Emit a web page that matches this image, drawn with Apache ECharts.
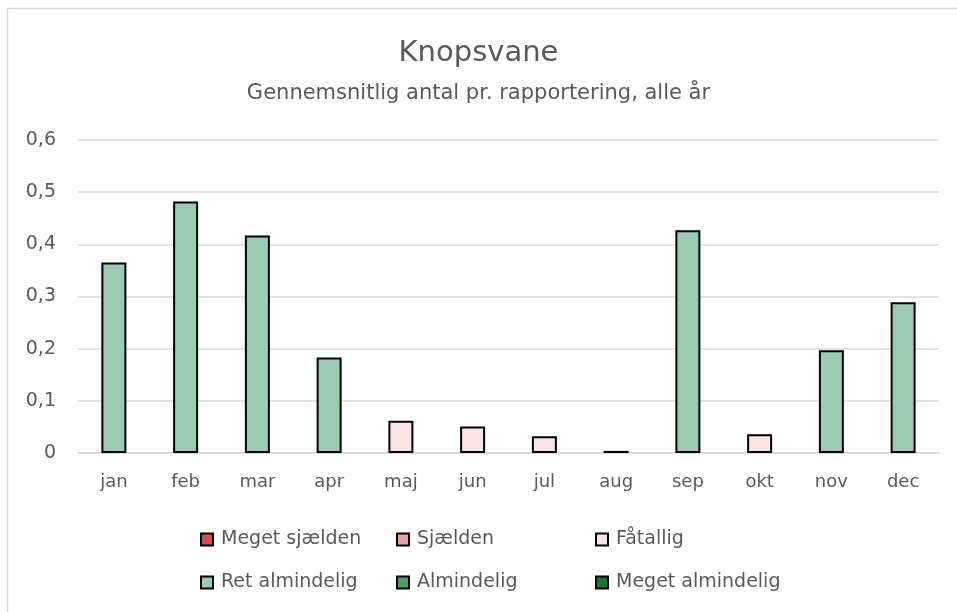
<!DOCTYPE html>
<html>
<head>
<meta charset="utf-8">
<script src="https://cdn.jsdelivr.net/npm/echarts@6/dist/echarts.min.js"></script>
<style>html,body{margin:0;padding:0;background:#fff}#c{width:957px;height:612px}</style>
</head>
<body>
<div id="c"></div>
<script>
const categories = ['jan','feb','mar','apr','maj','jun','jul','aug','sep','okt','nov','dec'];
const values = [0.365,0.482,0.417,0.183,0.062,0.051,0.032,0.004,0.427,0.036,0.197,0.289];
const monthClass = ['Ret almindelig','Ret almindelig','Ret almindelig','Ret almindelig','Fåtallig','Fåtallig','Fåtallig','Fåtallig','Ret almindelig','Fåtallig','Ret almindelig','Ret almindelig'];
const classNames = ['Meget sjælden','Sjælden','Fåtallig','Ret almindelig','Almindelig','Meget almindelig'];
const classColors = ['#D64B4B','#E8A09E','#F9E3E3','#9ACBB0','#4A9E6E','#0B7B34'];
const yTicks = ['0','0,1','0,2','0,3','0,4','0,5','0,6'];

const FONT = 'DejaVu Sans';
const TXT = '#595959';

const series = classNames.map((name, i) => ({
  name: name,
  type: 'bar',
  stack: 'all',
  barWidth: 25,
  data: values.map((v, k) => monthClass[k] === name ? v : '-'),
  itemStyle: { color: classColors[i], borderColor: '#000', borderWidth: 2 }
}));

const legendX = [200, 396, 595];
const legendY = [530, 573];
const legends = classNames.map((name, i) => ({
  data: [name],
  left: legendX[i % 3],
  top: legendY[Math.floor(i / 3)],
  padding: 0,
  itemWidth: 12,
  itemHeight: 12,
  icon: 'rect',
  itemStyle: { borderColor: '#000', borderWidth: 2 },
  textStyle: { fontFamily: FONT, fontSize: 19, color: TXT, padding: [0, 0, 0, 3] },
  selectedMode: false
}));

const chart = echarts.init(document.getElementById('c'));
chart.setOption({
  animation: false,
  title: [
    { text: 'Knopsvane', left: 'center', top: 34, textStyle: { fontFamily: FONT, fontSize: 29, fontWeight: 'normal', color: TXT } },
    { text: 'Gennemsnitlig antal pr. rapportering, alle år', left: 'center', top: 78, textStyle: { fontFamily: FONT, fontSize: 21, fontWeight: 'normal', color: TXT } }
  ],
  legend: legends,
  grid: { left: 78, right: 18, top: 140, bottom: 159 },
  xAxis: {
    type: 'category',
    data: categories,
    axisTick: { show: false },
    axisLine: { lineStyle: { color: '#d9d9d9', width: 1.5 } },
    axisLabel: { fontFamily: FONT, fontSize: 18, color: TXT, margin: 20 }
  },
  yAxis: {
    type: 'value',
    min: 0, max: 0.6, interval: 0.1,
    axisLine: { show: false },
    axisTick: { show: false },
    splitLine: { lineStyle: { color: '#d9d9d9', width: 1.5 } },
    axisLabel: {
      fontFamily: FONT, fontSize: 19, color: TXT, margin: 22,
      formatter: (v) => yTicks[Math.round(v * 10)]
    }
  },
  graphic: [{
    type: 'rect',
    shape: { x: 7.5, y: 8.5, width: 1000, height: 1000 },
    style: { fill: 'none', stroke: '#d9d9d9', lineWidth: 1.5 },
    silent: true, z: -1
  }],
  series: series
});
</script>
</body>
</html>
